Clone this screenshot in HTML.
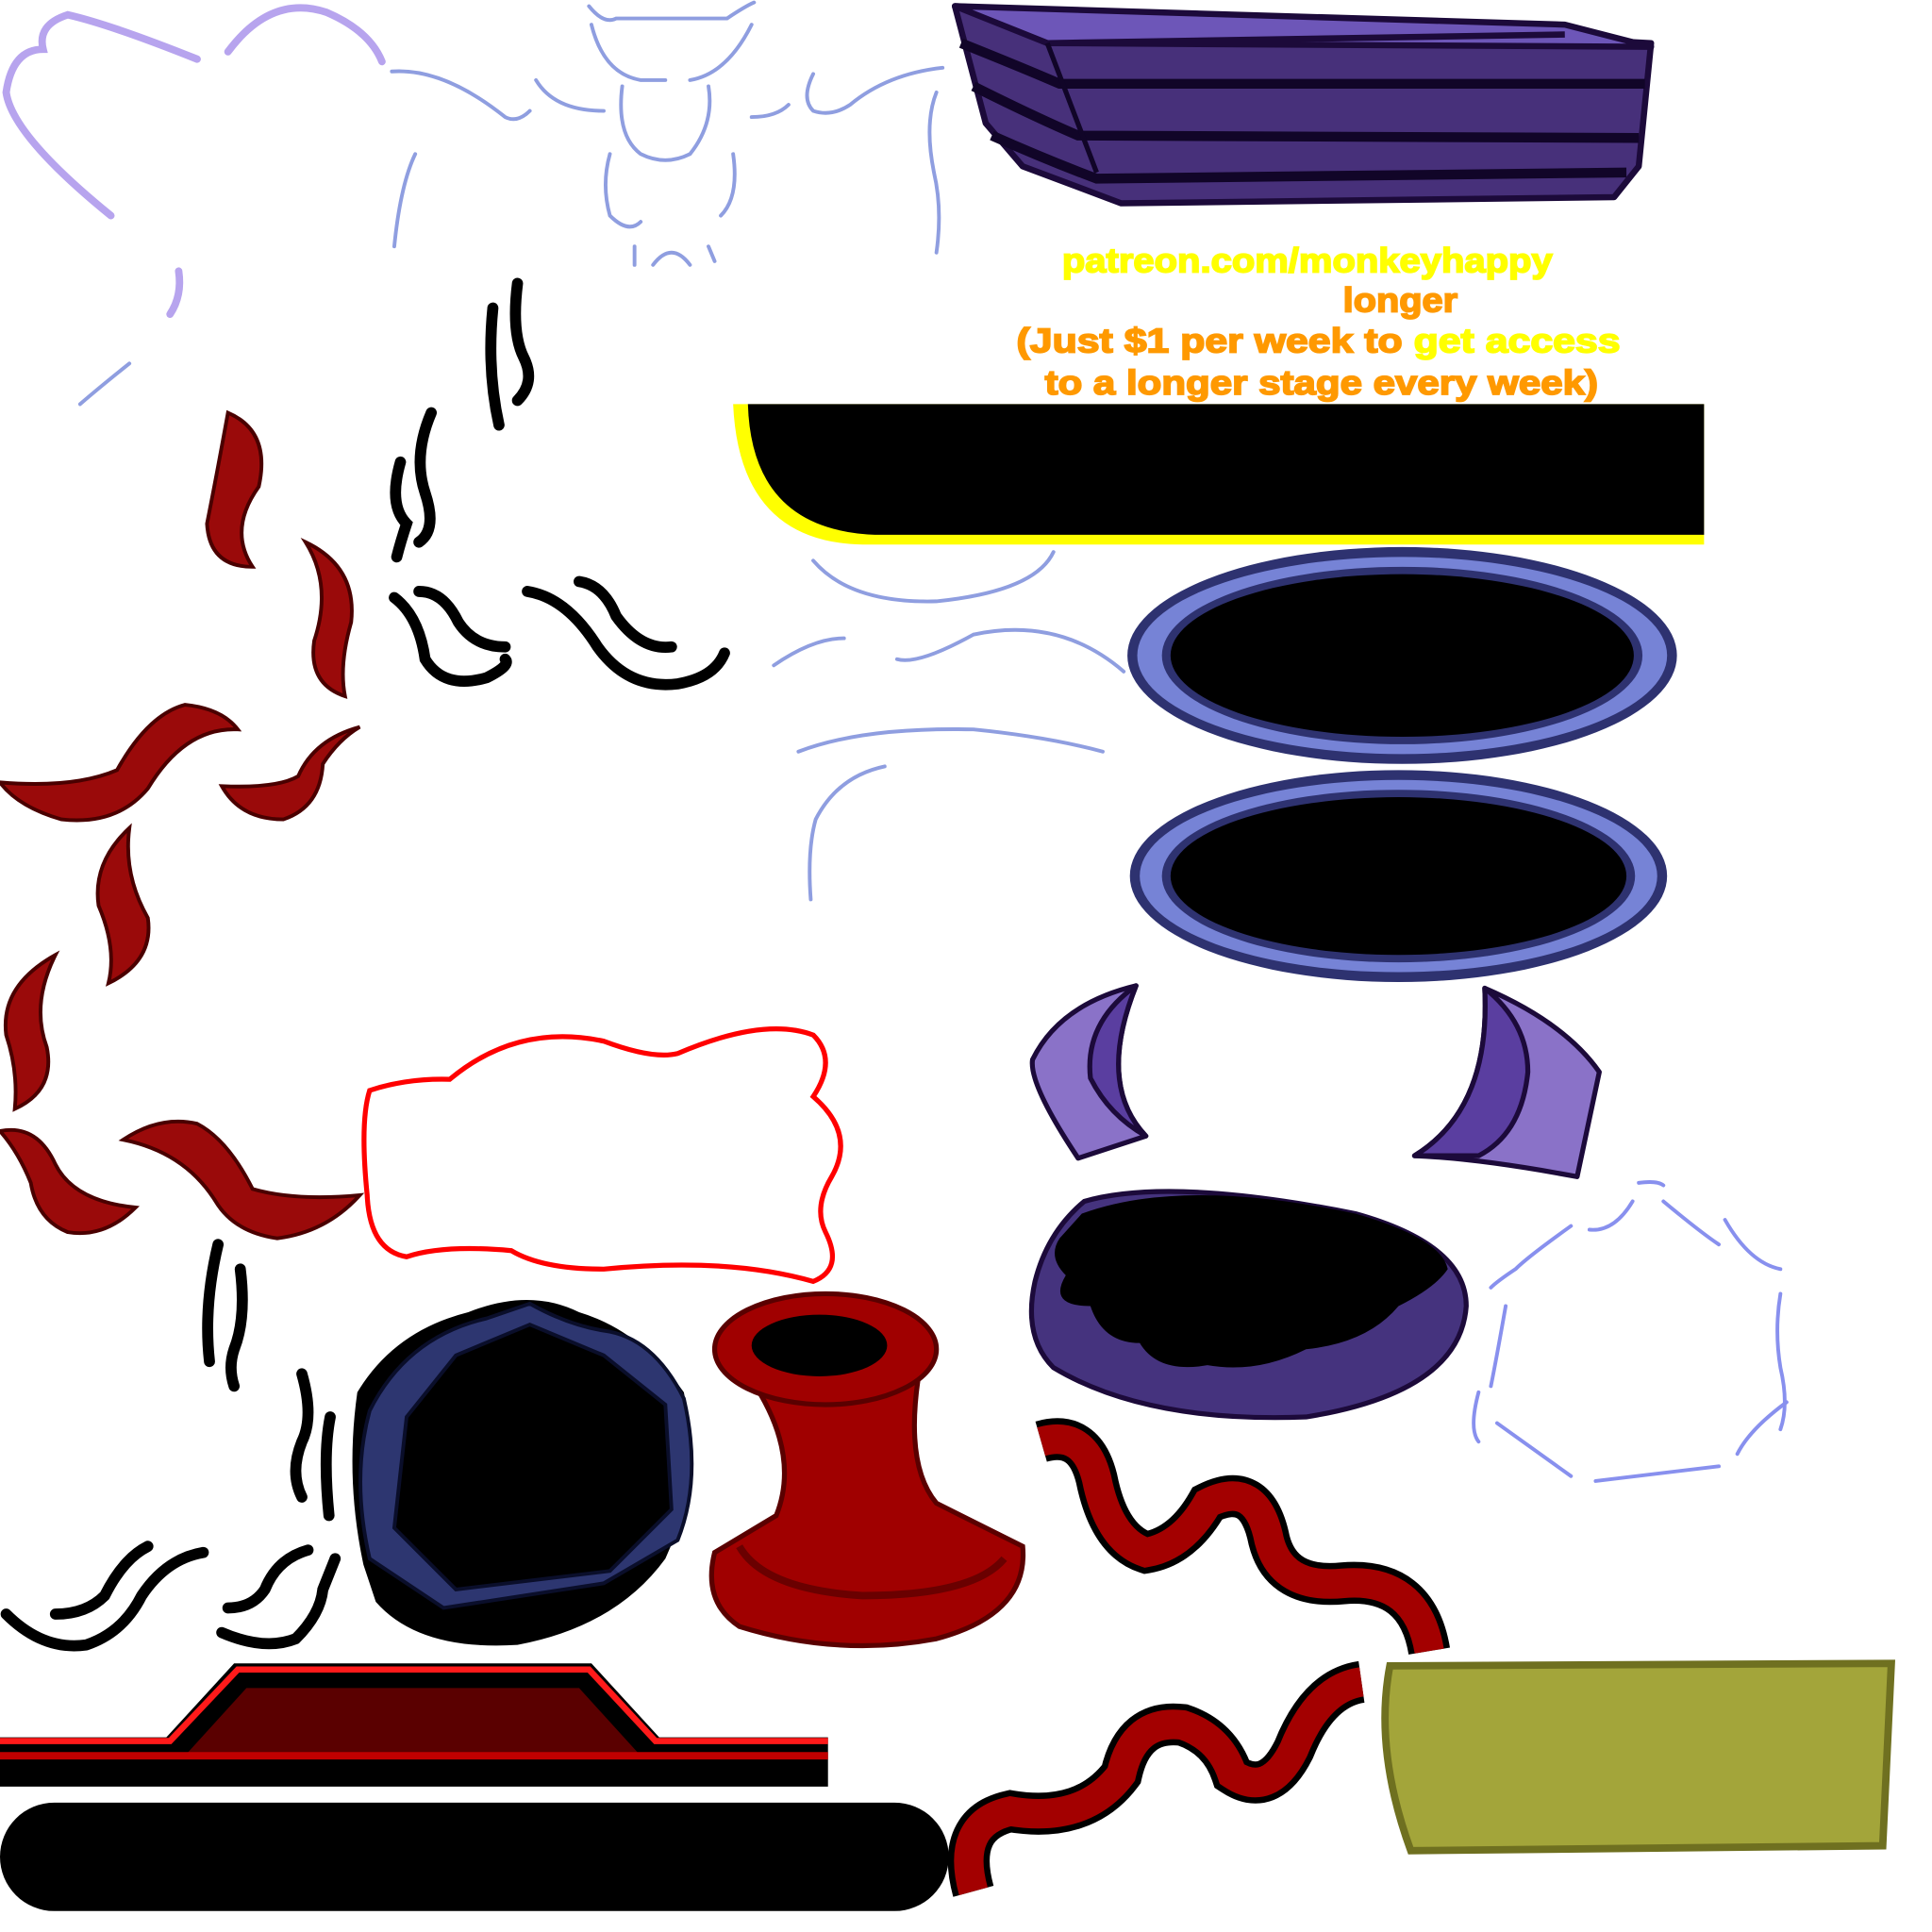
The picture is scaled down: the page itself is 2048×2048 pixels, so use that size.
<!DOCTYPE html>
<html><head><meta charset="utf-8"><style>
html,body{margin:0;padding:0;background:#fff;width:2048px;height:2048px;overflow:hidden}
svg{display:block}
</style></head><body>
<svg width="2048" height="2048" viewBox="0 0 1568 1568" xmlns="http://www.w3.org/2000/svg">
<rect width="1568" height="1568" fill="#fff"/>
<g fill="none" stroke="#b7a4ee" stroke-width="6" stroke-linecap="round">
<path d="M160 48 Q90 20 55 12 Q30 20 35 40 Q10 40 5 75 Q10 110 90 175"/>
<path d="M185 42 Q220 -5 265 10 Q300 25 310 50"/>
<path d="M145 220 Q148 240 138 255"/>
</g>
<g fill="none" stroke="#8f9ee0" stroke-width="3" stroke-linecap="round">
<path d="M105 295 Q80 315 65 328"/>
<path d="M318 58 Q360 55 410 95 Q420 100 430 90"/>
<path d="M337 125 Q325 150 320 200"/>
<path d="M478 5 Q490 20 500 15 L590 15 Q605 5 612 2"/>
<path d="M480 20 Q490 60 520 65 L540 65"/><path d="M560 65 Q590 60 610 20"/>
<path d="M435 65 Q450 90 490 90"/><path d="M610 95 Q630 95 640 85"/>
<path d="M505 70 Q500 110 520 125 Q540 135 560 125 Q580 100 575 70"/>
<path d="M495 125 Q488 150 495 175 Q510 190 520 180"/>
<path d="M595 125 Q600 160 585 175"/>
<path d="M515 200 L515 215 M530 215 Q545 195 560 215 M575 200 L580 212"/>
<path d="M660 60 Q650 80 660 90 Q675 95 690 85 Q720 60 765 55"/>
<path d="M760 75 Q750 100 758 140 Q765 170 760 205"/>
<path d="M660 455 Q690 490 760 488 Q840 480 855 448"/>
<path d="M628 540 Q660 518 685 518"/>
<path d="M728 535 Q745 540 790 515 Q860 500 912 545"/>
<path d="M648 610 Q700 590 790 592 Q850 598 895 610"/>
<path d="M718 622 Q680 630 662 665 Q655 690 658 730"/>
</g>
<g fill="none" stroke="#8890ee" stroke-width="3" stroke-linecap="round">
<path d="M1330 960 Q1345 958 1350 962"/><path d="M1325 975 Q1310 1000 1290 998"/>
<path d="M1350 975 Q1380 1000 1395 1010"/><path d="M1400 990 Q1420 1025 1445 1030"/>
<path d="M1275 995 Q1240 1020 1230 1030 Q1215 1040 1210 1045"/>
<path d="M1445 1050 Q1440 1080 1445 1110 Q1452 1140 1445 1160"/>
<path d="M1222 1060 Q1215 1100 1210 1125"/><path d="M1200 1130 Q1192 1160 1200 1170"/>
<path d="M1450 1138 Q1420 1160 1410 1180"/>
<path d="M1215 1155 Q1250 1180 1275 1198"/><path d="M1295 1202 L1395 1190"/>
</g>
<g stroke="#1c0a3a" stroke-width="5" stroke-linejoin="round">
<path d="M775 5 L1340 35 L1330 135 L1310 160 L910 165 L830 135 L800 100 Z" fill="#47307a"/>
<path d="M775 5 L850 35 L1340 38 L1270 20 Z" fill="#6d56b8"/>
<path d="M850 35 L1270 28" fill="none"/>
</g>
<g stroke="#110528" stroke-width="8" fill="none">
<path d="M780 35 Q830 55 860 68 L1335 68"/>
<path d="M790 70 Q840 95 875 110 L1330 112"/>
<path d="M805 110 Q850 130 890 145 L1320 140"/>
</g>
<path d="M850 35 L890 140" stroke="#110528" stroke-width="4" fill="none"/>
<g font-family="'Liberation Sans',sans-serif" font-weight="900" font-size="28" stroke-width="1.3" lengthAdjust="spacingAndGlyphs">
<text x="862" y="221" fill="#ffff00" stroke="#ffff00" textLength="398" lengthAdjust="spacingAndGlyphs">patreon.com/monkeyhappy</text>
<text x="1090" y="253" fill="#ff9900" stroke="#ff9900" textLength="93" lengthAdjust="spacingAndGlyphs">longer</text>
<text x="825" y="286" fill="#ff9900" stroke="#ff9900" textLength="490" lengthAdjust="spacingAndGlyphs">(Just $1 per week to <tspan fill="#ffff00" stroke="#ffff00">get access</tspan></text>
<text x="848" y="320" fill="#ff9900" stroke="#ff9900" textLength="449" lengthAdjust="spacingAndGlyphs">to a longer stage every week)</text>
</g>
<path d="M595 328 L1383 328 L1383 442 L700 442 Q600 440 595 328 Z" fill="#ffff00"/>
<path d="M607 328 L1383 328 L1383 434 L710 434 Q610 430 607 328 Z" fill="#000"/>
<g>
<ellipse cx="1138" cy="532" rx="223" ry="88" fill="#2e3270"/>
<ellipse cx="1138" cy="532" rx="215" ry="80" fill="#7683d6"/>
<ellipse cx="1138" cy="532" rx="195" ry="72" fill="#2e3270"/>
<ellipse cx="1138" cy="532" rx="188" ry="66" fill="#000"/>
<ellipse cx="1135" cy="711" rx="218" ry="86" fill="#2e3270"/>
<ellipse cx="1135" cy="711" rx="210" ry="78" fill="#7683d6"/>
<ellipse cx="1135" cy="711" rx="192" ry="70" fill="#2e3270"/>
<ellipse cx="1135" cy="711" rx="185" ry="64" fill="#000"/>
</g>
<g stroke="#1c0a3a" stroke-width="4" stroke-linejoin="round">
<path d="M922 800 Q860 815 838 860 Q835 880 875 940 L930 922 Q890 880 922 800 Z" fill="#8a72c8"/>
<path d="M922 800 Q880 830 885 875 Q900 905 930 922 Q890 880 922 800 Z" fill="#5a3ea0"/>
<path d="M1205 802 Q1270 830 1298 870 L1280 955 Q1200 940 1148 938 Q1210 900 1205 802 Z" fill="#8a72c8"/>
<path d="M1205 802 Q1240 830 1240 870 Q1235 920 1200 938 L1148 938 Q1210 900 1205 802 Z" fill="#5a3ea0"/>
</g>
<path d="M880 975 Q950 955 1100 985 Q1190 1010 1190 1060 Q1185 1130 1060 1150 Q930 1155 855 1110 Q830 1085 840 1040 Q850 1000 880 975 Z" fill="#45337e" stroke="#1c0a3a" stroke-width="4"/>
<path d="M878 985 Q960 955 1100 985 Q1170 1005 1175 1030 Q1165 1045 1135 1060 Q1110 1090 1060 1095 Q1020 1115 980 1108 Q940 1115 925 1090 Q895 1090 885 1060 Q850 1060 865 1035 Q850 1020 860 1005 Z" fill="#000"/>
<path d="M300 885 Q330 875 365 876 Q420 830 490 845 Q530 860 550 855 Q620 825 660 840 Q680 860 660 890 Q695 920 675 955 Q660 980 670 1000 Q685 1030 660 1040 Q590 1020 490 1030 Q440 1030 415 1015 Q360 1010 330 1020 Q300 1015 298 970 Q292 910 300 885 Z" fill="#fff" stroke="#ff0000" stroke-width="4"/>
<path d="M295 1270 Q280 1200 290 1130 Q320 1080 380 1065 Q430 1045 470 1065 Q520 1080 555 1130 Q570 1200 540 1265 Q500 1320 420 1335 Q340 1340 305 1300 Z" fill="#000"/>
<path d="M300 1145 Q330 1085 395 1070 L430 1058 Q460 1075 490 1080 Q530 1085 555 1135 Q570 1200 550 1250 L490 1285 L360 1305 L300 1265 Q285 1200 300 1145 Z M330 1150 L320 1240 L370 1290 L495 1275 L545 1225 L540 1140 L490 1100 L430 1075 L370 1100 Z" fill="#2d3670" fill-rule="evenodd" stroke="#0a0e2a" stroke-width="3"/>
<path d="M610 1120 L745 1120 Q735 1190 760 1220 L830 1255 Q835 1310 760 1330 Q680 1345 600 1320 Q570 1300 580 1260 L630 1230 Q650 1180 610 1120 Z" fill="#a00000" stroke="#5a0000" stroke-width="4"/>
<path d="M600 1255 Q620 1290 700 1295 Q790 1295 815 1265" fill="none" stroke="#6a0000" stroke-width="6"/>
<ellipse cx="670" cy="1095" rx="90" ry="45" fill="#a00000" stroke="#5a0000" stroke-width="4"/>
<ellipse cx="665" cy="1092" rx="55" ry="25" fill="#000"/>
<path d="M0 1410 L135 1410 L190 1350 L480 1350 L535 1410 L672 1410 L672 1450 L0 1450 Z" fill="#000"/>
<path d="M0 1413 L138 1413 L193 1355 L478 1355 L532 1413 L672 1413" fill="none" stroke="#ff1a1a" stroke-width="5"/>
<path d="M150 1425 L200 1370 L470 1370 L520 1425 Z" fill="#5a0000"/>
<path d="M0 1425 L672 1425" stroke="#c00000" stroke-width="6"/>
<rect x="0" y="1463" width="770" height="88" rx="44" fill="#000"/>
<path d="M1128 1352 L1535 1350 L1528 1498 L1145 1502 Q1115 1420 1128 1352 Z" fill="#a3a53a" stroke="#6f7020" stroke-width="6"/>
<g fill="none" stroke-linecap="butt">
<path d="M845 1170 Q880 1160 890 1200 Q900 1250 930 1260 Q960 1255 980 1220 Q1020 1200 1030 1250 Q1040 1290 1090 1285 Q1150 1280 1160 1340" stroke="#000" stroke-width="34"/>
<path d="M845 1170 Q880 1160 890 1200 Q900 1250 930 1260 Q960 1255 980 1220 Q1020 1200 1030 1250 Q1040 1290 1090 1285 Q1150 1280 1160 1340" stroke="#a30000" stroke-width="24"/>
<path d="M790 1535 Q775 1480 820 1470 Q880 1480 910 1440 Q920 1395 960 1400 Q990 1410 1000 1440 Q1030 1460 1050 1420 Q1070 1370 1105 1365" stroke="#000" stroke-width="34"/>
<path d="M790 1535 Q775 1480 820 1470 Q880 1480 910 1440 Q920 1395 960 1400 Q990 1410 1000 1440 Q1030 1460 1050 1420 Q1070 1370 1105 1365" stroke="#a30000" stroke-width="24"/>
</g>
<g fill="#9a0a0a" stroke="#4a0000" stroke-width="3">
<path d="M185 335 Q220 350 210 395 Q185 430 205 460 Q170 460 168 425 Q175 390 185 335 Z"/>
<path d="M248 440 Q290 460 285 505 Q275 540 280 565 Q250 555 255 520 Q270 475 248 440 Z"/>
<path d="M0 635 Q60 640 95 625 Q120 580 150 572 Q180 575 193 592 Q150 590 120 640 Q95 670 50 665 Q15 655 0 635 Z"/>
<path d="M292 590 Q255 600 242 630 Q225 640 180 638 Q195 665 230 665 Q260 655 262 620 Q275 600 292 590 Z"/>
<path d="M105 672 Q75 700 80 735 Q95 770 88 798 Q125 780 120 745 Q100 710 105 672 Z"/>
<path d="M45 775 Q0 800 5 840 Q15 870 12 900 Q45 885 38 850 Q25 815 45 775 Z"/>
<path d="M0 918 Q30 912 45 945 Q60 975 110 980 Q85 1005 55 1000 Q30 990 25 960 Q15 935 0 918 Z"/>
<path d="M100 925 Q130 905 160 912 Q185 925 205 965 Q240 975 292 970 Q265 1000 225 1005 Q190 1000 175 975 Q150 935 100 925 Z"/>
</g>
<g fill="none" stroke="#000" stroke-width="9" stroke-linecap="round">
<path d="M405 345 Q395 300 400 250 M420 230 Q415 270 425 290 Q435 310 420 325"/>
<path d="M350 335 Q335 370 345 400 Q355 430 340 440 M325 375 Q315 410 330 425 Q325 440 322 452"/>
<path d="M320 485 Q340 500 345 535 Q360 560 395 550 Q415 540 410 535 M340 480 Q360 480 372 505 Q385 525 410 525"/>
<path d="M428 480 Q460 485 485 525 Q510 560 550 555 Q580 550 588 530 M470 472 Q490 475 500 500 Q520 528 545 525"/>
<path d="M177 1010 Q165 1060 170 1105 M195 1030 Q200 1070 190 1095 Q185 1110 190 1125"/>
<path d="M245 1115 Q255 1150 245 1170 Q235 1195 245 1215 M268 1150 Q262 1180 267 1230"/>
<path d="M5 1310 Q35 1340 70 1335 Q100 1325 115 1295 Q135 1265 165 1260 M45 1310 Q70 1310 85 1295 Q100 1265 120 1255"/>
<path d="M180 1325 Q215 1340 240 1330 Q260 1310 262 1290 Q268 1275 272 1265 M185 1305 Q205 1305 215 1290 Q225 1265 250 1258"/>
</g>
</svg>
</body></html>
